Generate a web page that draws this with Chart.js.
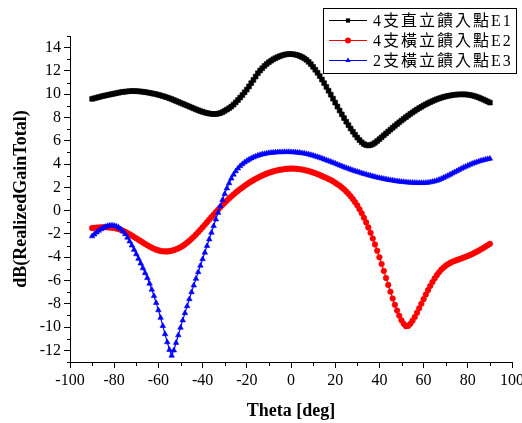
<!DOCTYPE html>
<html><head><meta charset="utf-8">
<script src="https://cdn.jsdelivr.net/npm/chart.js@4.4.0/dist/chart.umd.min.js"></script>
<style>html,body{margin:0;padding:0;background:#fff}#wrap{width:522px;height:423px}</style>
</head><body><div id="wrap"><canvas id="c" width="522" height="423"></canvas></div>
<script>
const theta = [-90,-89,-88,-87,-86,-85,-84,-83,-82,-81,-80,-79,-78,-77,-76,-75,-74,-73,-72,-71,-70,-69,-68,-67,-66,-65,-64,-63,-62,-61,-60,-59,-58,-57,-56,-55,-54,-53,-52,-51,-50,-49,-48,-47,-46,-45,-44,-43,-42,-41,-40,-39,-38,-37,-36,-35,-34,-33,-32,-31,-30,-29,-28,-27,-26,-25,-24,-23,-22,-21,-20,-19,-18,-17,-16,-15,-14,-13,-12,-11,-10,-9,-8,-7,-6,-5,-4,-3,-2,-1,0,1,2,3,4,5,6,7,8,9,10,11,12,13,14,15,16,17,18,19,20,21,22,23,24,25,26,27,28,29,30,31,32,33,34,35,36,37,38,39,40,41,42,43,44,45,46,47,48,49,50,51,52,53,54,55,56,57,58,59,60,61,62,63,64,65,66,67,68,69,70,71,72,73,74,75,76,77,78,79,80,81,82,83,84,85,86,87,88,89,90];

const seriesNames = ['4支直立饋入點E1', '4支橫立饋入點E2', '2支橫立饋入點E3'];

const e1 = [9.60,9.65,9.70,9.75,9.80,9.85,9.89,9.93,9.97,10.01,
10.05,10.09,10.13,10.17,10.20,10.22,10.24,10.26,10.27,10.27,
10.26,10.25,10.23,10.21,10.18,10.15,10.12,10.08,10.04,10.00,
9.95,9.90,9.84,9.78,9.72,9.65,9.58,9.50,9.42,9.34,
9.26,9.18,9.10,9.02,8.94,8.86,8.78,8.70,8.62,8.55,
8.49,8.43,8.38,8.34,8.31,8.30,8.30,8.33,8.38,8.46,
8.57,8.68,8.80,8.94,9.11,9.30,9.50,9.71,9.93,10.16,
10.40,10.67,10.95,11.23,11.52,11.80,12.03,12.23,12.43,12.60,
12.75,12.88,13.00,13.10,13.19,13.27,13.34,13.39,13.43,13.45,
13.45,13.43,13.40,13.35,13.28,13.19,13.08,12.95,12.78,12.58,
12.35,12.10,11.84,11.56,11.26,10.95,10.63,10.30,9.96,9.62,
9.28,8.94,8.60,8.27,7.95,7.64,7.34,7.05,6.78,6.52,
6.28,6.06,5.87,5.72,5.63,5.60,5.63,5.71,5.83,5.98,
6.14,6.30,6.47,6.63,6.80,6.96,7.12,7.28,7.44,7.59,
7.74,7.89,8.03,8.17,8.31,8.44,8.57,8.69,8.81,8.92,
9.03,9.13,9.23,9.32,9.41,9.49,9.57,9.64,9.70,9.76,
9.81,9.85,9.89,9.92,9.95,9.97,9.98,9.99,9.99,9.98,
9.96,9.93,9.89,9.84,9.78,9.71,9.63,9.55,9.46,9.37,
9.28];

const e2 = [-1.50,-1.48,-1.46,-1.45,-1.44,-1.43,-1.43,-1.43,-1.44,-1.46,
-1.49,-1.53,-1.58,-1.65,-1.73,-1.82,-1.92,-2.03,-2.14,-2.26,
-2.38,-2.50,-2.62,-2.74,-2.86,-2.97,-3.08,-3.18,-3.27,-3.35,
-3.41,-3.46,-3.49,-3.50,-3.50,-3.48,-3.44,-3.39,-3.32,-3.24,
-3.14,-3.03,-2.90,-2.75,-2.59,-2.42,-2.24,-2.05,-1.85,-1.64,
-1.43,-1.21,-0.99,-0.77,-0.55,-0.34,-0.13,0.08,0.29,0.49,
0.68,0.87,1.05,1.22,1.39,1.55,1.70,1.85,1.99,2.13,
2.26,2.39,2.51,2.62,2.73,2.83,2.93,3.02,3.10,3.18,
3.25,3.31,3.37,3.42,3.47,3.51,3.54,3.57,3.59,3.60,
3.61,3.61,3.60,3.58,3.56,3.53,3.49,3.45,3.40,3.34,
3.28,3.21,3.14,3.06,2.97,2.89,2.81,2.72,2.63,2.52,
2.40,2.27,2.14,1.99,1.83,1.65,1.45,1.23,0.99,0.73,
0.45,0.12,-0.23,-0.61,-1.01,-1.44,-1.90,-2.39,-2.90,-3.44,
-4.00,-4.58,-5.18,-5.78,-6.38,-6.97,-7.54,-8.08,-8.58,-9.03,
-9.42,-9.72,-9.92,-9.90,-9.72,-9.45,-9.13,-8.77,-8.39,-8.00,
-7.60,-7.21,-6.83,-6.47,-6.13,-5.82,-5.54,-5.29,-5.07,-4.89,
-4.73,-4.60,-4.49,-4.40,-4.32,-4.25,-4.18,-4.11,-4.04,-3.97,
-3.89,-3.81,-3.72,-3.63,-3.53,-3.43,-3.32,-3.21,-3.09,-2.97,
-2.85];

const e3 = [-2.20,-2.03,-1.87,-1.72,-1.59,-1.48,-1.39,-1.32,-1.28,-1.27,
-1.29,-1.35,-1.45,-1.59,-1.78,-2.02,-2.31,-2.64,-2.99,-3.36,
-3.74,-4.13,-4.53,-4.94,-5.36,-5.78,-6.26,-6.78,-7.33,-7.92,
-8.55,-9.20,-9.90,-10.60,-11.30,-11.95,-12.45,-12.00,-11.35,-10.70,
-10.05,-9.42,-8.80,-8.20,-7.60,-7.00,-6.42,-5.85,-5.28,-4.72,
-4.16,-3.60,-3.03,-2.46,-1.89,-1.32,-0.75,-0.18,0.38,0.92,
1.44,1.92,2.36,2.76,3.10,3.39,3.63,3.83,4.00,4.15,
4.28,4.39,4.49,4.58,4.66,4.73,4.79,4.84,4.88,4.92,
4.95,4.97,4.99,5.01,5.02,5.03,5.03,5.04,5.04,5.04,
5.03,5.02,5.01,4.99,4.97,4.94,4.91,4.87,4.83,4.78,
4.73,4.67,4.61,4.55,4.48,4.41,4.34,4.27,4.20,4.12,
4.05,3.97,3.89,3.82,3.74,3.67,3.60,3.53,3.46,3.40,
3.34,3.28,3.22,3.16,3.11,3.05,3.00,2.95,2.90,2.85,
2.81,2.77,2.73,2.69,2.65,2.62,2.59,2.56,2.53,2.50,
2.48,2.46,2.44,2.42,2.41,2.40,2.39,2.38,2.38,2.38,
2.38,2.39,2.41,2.44,2.48,2.52,2.58,2.65,2.73,2.82,
2.91,3.00,3.10,3.20,3.30,3.40,3.50,3.60,3.69,3.78,
3.87,3.95,4.03,4.10,4.17,4.23,4.29,4.34,4.39,4.43,
4.47];

const xTicks = [-100,-80,-60,-40,-20,0,20,40,60,80,100];
const xMinor = [-90,-70,-50,-30,-10,10,30,50,70,90];
const yTicks = [-12,-10,-8,-6,-4,-2,0,2,4,6,8,10,12,14];
const yMinor = [-13,-11,-9,-7,-5,-3,-1,1,3,5,7,9,11,13,15];

const SERIF = '"Liberation Serif", "Times New Roman", serif';

const minorTicks = {
  id: 'minorTicks',
  afterDraw(chart) {
    const { ctx, scales: { x, y } } = chart;
    ctx.save();
    ctx.strokeStyle = '#000';
    ctx.lineWidth = 1;
    ctx.beginPath();
    const lx = Math.round(x.left) + 0.5;
    yMinor.forEach(v => {
      const py = Math.round(y.getPixelForValue(v)) + 0.5;
      ctx.moveTo(lx - 3.5, py); ctx.lineTo(lx, py);
    });
    const by = Math.round(y.bottom) + 0.5;
    xMinor.forEach(v => {
      const px = Math.round(x.getPixelForValue(v)) + 0.5;
      ctx.moveTo(px, by); ctx.lineTo(px, by + 3.5);
    });
    ctx.stroke();
    ctx.restore();
  }
};

const legendBox = {
  id: 'legendBox',
  afterDraw(chart) {
    const ctx = chart.ctx;
    ctx.save();
    const bx = 323.5, by = 8.5, bw = 193, bh = 65;
    ctx.fillStyle = '#fff';
    ctx.fillRect(bx, by, bw, bh);
    ctx.strokeStyle = '#000';
    ctx.lineWidth = 1;
    ctx.strokeRect(bx, by, bw, bh);
    chart.data.datasets.forEach((ds, i) => {
      const cy = 20.5 + i * 20;
      ctx.strokeStyle = ds.borderColor;
      ctx.lineWidth = 1;
      ctx.beginPath(); ctx.moveTo(329, cy); ctx.lineTo(367, cy); ctx.stroke();
      ctx.fillStyle = ds.backgroundColor;
      Chart.helpers.drawPoint(ctx, { pointStyle: ds.pointStyle, radius: 3, borderWidth: 0, rotation: 0 }, 348, cy);
      ctx.fillStyle = '#000';
      ctx.font = '16px "Liberation Serif", "Noto Sans CJK TC", serif';
      ctx.textBaseline = 'middle';
      ctx.textAlign = 'left';
      let tx = 373;
      for (const ch of ds.label) {
        ctx.fillText(ch, tx, cy + 1);
        tx += ctx.measureText(ch).width + 2;
      }
    });
    ctx.restore();
  }
};

function mk(label, vals, color, style, radius, order) {
  return {
    label, data: theta.map((t, i) => ({ x: t, y: vals[i] })),
    borderColor: color, backgroundColor: color,
    pointBackgroundColor: color, pointBorderColor: color, pointBorderWidth: 0.6,
    borderWidth: 1.2, pointStyle: style, pointRadius: radius,
    tension: 0, order, fill: false
  };
}

new Chart(document.getElementById('c'), {
  type: 'line',
  data: {
    datasets: [
      mk(seriesNames[0], e1, '#000000', 'rect', 3.4, 3),
      mk(seriesNames[1], e2, '#ff0000', 'circle', 2.8, 2),
      mk(seriesNames[2], e3, '#0000ff', 'triangle', 3.2, 1)
    ]
  },
  options: {
    responsive: false, animation: false, devicePixelRatio: 1,
    layout: { padding: { top: 36, right: 10, left: 0, bottom: 0 } },
    plugins: { legend: { display: false }, tooltip: { enabled: false } },
    scales: {
      x: {
        type: 'linear', min: -100, max: 100,
        afterBuildTicks: s => { s.ticks = xTicks.map(v => ({ value: v })); },
        afterFit: s => { s.height = 61; s.paddingLeft = 0; s.paddingRight = 0; },
        grid: { drawOnChartArea: false, drawTicks: true, tickLength: 6, color: '#000', tickWidth: 1 },
        border: { display: true, color: '#000', width: 1 },
        ticks: { color: '#000', font: { family: SERIF, size: 16 }, padding: 3, maxRotation: 0, autoSkip: false },
        title: { display: true, text: 'Theta [deg]', color: '#000', font: { family: SERIF, size: 18, weight: 'bold' }, padding: { top: 0, bottom: 1 } }
      },
      y: {
        type: 'linear', min: -13, max: 15,
        afterBuildTicks: s => { s.ticks = yTicks.map(v => ({ value: v })); },
        afterFit: s => { s.width = 70; s.paddingTop = 0; s.paddingBottom = 0; },
        grid: { drawOnChartArea: false, drawTicks: true, tickLength: 6, color: '#000', tickWidth: 1 },
        border: { display: true, color: '#000', width: 1 },
        ticks: { color: '#000', font: { family: SERIF, size: 16 }, padding: 3, autoSkip: false },
        title: { display: true, text: 'dB(RealizedGainTotal)', color: '#000', font: { family: SERIF, size: 18, weight: 'bold' }, padding: { top: 11, bottom: 0 } }
      }
    }
  },
  plugins: [minorTicks, legendBox]
});
</script>
</body></html>
